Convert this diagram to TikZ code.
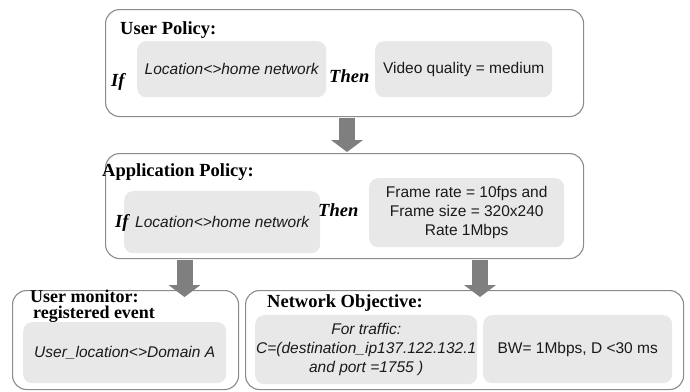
\documentclass[tikz,border=0pt]{standalone}
\usepackage{fontspec}
\setmainfont{Liberation Serif}
\setsansfont{Liberation Sans}
\usetikzlibrary{arrows.meta,calc}
\definecolor{boxline}{HTML}{8C8C8C}
\definecolor{panel}{HTML}{E8E8E8}
\definecolor{arrowgray}{HTML}{7F7F7F}
\definecolor{ink}{HTML}{1A1A1A}

\begin{document}
\begin{tikzpicture}[x=1pt,y=-1pt,
  outerbox/.style={draw=boxline, line width=1.1pt, fill=white, rounded corners=14pt,
    anchor=north west, inner sep=0pt},
  panelbox/.style={fill=panel, rounded corners=9pt, anchor=north west, inner sep=0pt,
    text=ink, align=center, font=\sffamily\fontsize{15.5}{19}\selectfont},
  italpanel/.style={panelbox, font=\sffamily\itshape\fontsize{15.5}{19}\selectfont},
  heading/.style={font=\bfseries\fontsize{18.5}{18.5}\selectfont, anchor=base west,
    inner sep=0pt, text=black},
  keyword/.style={font=\bfseries\itshape\fontsize{18.5}{18.5}\selectfont, anchor=base west,
    inner sep=0pt, text=black},
  bigarrow/.style={draw=arrowgray, line width=16pt,
    -{Triangle[width=32pt,length=12pt,line width=0pt]}}
]
\fill[white] (0,0) rectangle (690,391);
\useasboundingbox (0,0) rectangle (690,391);

% outer frames
\node[outerbox, minimum width=478pt, minimum height=107pt] (user) at (105,9) {};
\node[outerbox, minimum width=478pt, minimum height=105pt] (app)  at (105,153) {};
\node[outerbox, minimum width=226pt, minimum height=99pt]  (mon)  at (12,290) {};
\node[outerbox, minimum width=438pt, minimum height=99pt]  (net)  at (245,290) {};

% user policy
\node[heading] (userT) at (120,34) {User Policy:};
\node[italpanel, minimum width=189pt, minimum height=56pt] (u1) at (137,41) {Location<>home network};
\node[panelbox, minimum width=177pt, minimum height=56pt] (u2) at (375,41) {Video quality = medium};
\node[keyword] (uIf) at (111,86) {If};
\node[keyword] (uThen) at (329,82) {Then};

% application policy
\node[heading] (appT) at (102,176) {Application Policy:};
\node[italpanel, minimum width=196pt, minimum height=62pt] (a1) at (124,191) {Location<>home network};
\node[panelbox, minimum width=195pt, minimum height=69pt] (a2) at (369,178)
  {Frame rate = 10fps and\\Frame size = 320x240\\Rate 1Mbps};
\node[keyword] (aIf) at (115,227) {If};
\node[keyword] (aThen) at (318,216) {Then};

% user monitor
\node[heading, anchor=north west, align=left, font=\bfseries\fontsize{18}{16}\selectfont]
  (monT) at (30,290) {User monitor:\\\hspace*{3pt}registered event};
\node[italpanel, minimum width=203pt, minimum height=61pt] (m1) at (23,322) {User\_location<>Domain A};

% network objective
\node[heading] (netT) at (267,307) {Network Objective:};
\node[italpanel, minimum width=222pt, minimum height=69pt] (n1) at (255,315)
  {For traffic:\\C=(destination\_ip137.122.132.1\\and port =1755 )};
\node[panelbox, minimum width=189pt, minimum height=68pt] (n2) at (483,315) {BW= 1Mbps, D <30 ms};

% flow arrows
\coordinate (c1) at (347,0);
\coordinate (c2) at (184.5,0);
\coordinate (c3) at (480,0);
\draw[bigarrow] ($(user.south -| c1)+(0,0.6)$) -- ($(app.north -| c1)+(0,-1)$);
\draw[bigarrow] ($(app.south -| c2)+(0,0.6)$) -- ($(mon.north -| c2)+(0,7)$);
\draw[bigarrow] ($(app.south -| c3)+(0,0.6)$) -- ($(net.north -| c3)+(0,7)$);
\end{tikzpicture}
\end{document}
